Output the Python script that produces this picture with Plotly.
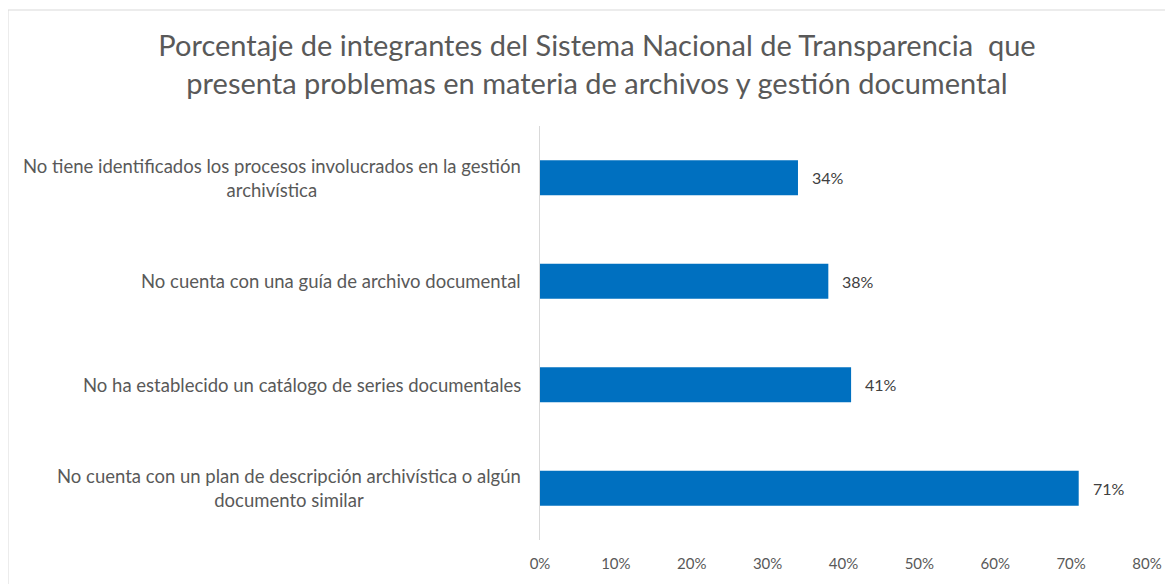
import plotly.graph_objects as go

title_lines = ["Porcentaje de integrantes del Sistema Nacional de Transparencia  que",
               "presenta problemas en materia de archivos y gestión documental"]
categories = [
    "No tiene identificados los procesos involucrados en la gestión<br>archivística",
    "No cuenta con una guía de archivo documental",
    "No ha establecido un catálogo de series documentales",
    "No cuenta con un plan de descripción archivística o algún<br>documento similar",
]
values = [0.34, 0.38, 0.41, 0.71]
tick_vals = [0, 0.1, 0.2, 0.3, 0.4, 0.5, 0.6, 0.7, 0.8]
tick_text = ["0%", "10%", "20%", "30%", "40%", "50%", "60%", "70%", "80%"]

FONT = "Lato"
GREY = "#595959"

L, R, T, B = 532, 34, 118, 52
PW = 1173 - L - R
PH = 584 - T - B

fig = go.Figure()
fig.add_trace(go.Bar(
    x=values, y=list(range(len(categories))), orientation="h",
    marker=dict(color="#0070C0", line=dict(width=0)),
    hoverinfo="skip",
))

annotations = []
for i, (c, v) in enumerate(zip(categories, values)):
    annotations.append(dict(
        x=0, y=i, xref="x", yref="y", text=c, showarrow=False,
        xanchor="right", yanchor="middle", align="center", xshift=-17,
        font=dict(family=FONT, size=18.5, color=GREY)))
    annotations.append(dict(
        x=v, y=i, xref="x", yref="y", text=f"{round(v*100)}%", showarrow=False,
        xanchor="left", yanchor="middle", xshift=12,
        font=dict(family=FONT, size=16, color="#404040")))

fig.update_layout(
    width=1173, height=584,
    margin=dict(l=L, r=R, t=T, b=B),
    paper_bgcolor="white", plot_bgcolor="white",
    showlegend=False,
    bargap=0.66,
    title=dict(text="<br>".join(title_lines), x=589 / 1173, xref="container", xanchor="center",
               y=1 - 48 / 584, yref="container", yanchor="top",
               font=dict(family=FONT, size=29, color=GREY)),
    xaxis=dict(range=[0, 0.8], tickvals=tick_vals, ticktext=tick_text,
               showgrid=False, zeroline=False, showline=False, ticks="",
               ticklabelstandoff=13,
               tickfont=dict(family=FONT, size=15, color=GREY), fixedrange=True),
    yaxis=dict(range=[len(categories) - 0.5, -0.5], showticklabels=False, ticks="",
               showgrid=False, zeroline=False, showline=True, linecolor="#D9D9D9",
               linewidth=1, fixedrange=True),
    annotations=annotations,
    shapes=[dict(type="rect", xref="paper", yref="paper",
                 x0=(0 - L) / PW, x1=(1200 - L) / PW,
                 y0=(584 - B - 620) / PH, y1=(584 - B - 2) / PH,
                 line=dict(color="#D9D9D9", width=1), fillcolor="rgba(0,0,0,0)")],
)

fig.write_html("out.html")
